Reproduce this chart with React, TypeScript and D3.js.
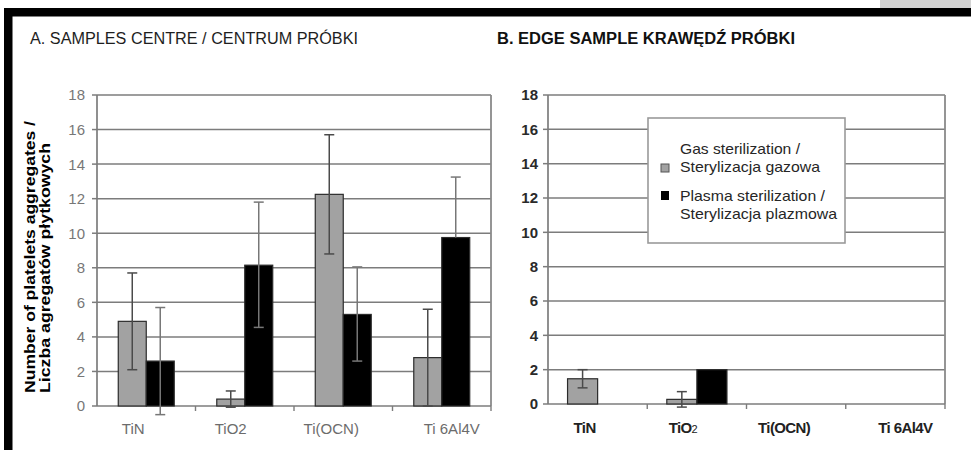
import React from 'react';
import * as d3 from 'd3';

const categories = ['TiN', 'TiO2', 'Ti(OCN)', 'Ti 6Al4V'];
const yTicks = [0, 2, 4, 6, 8, 10, 12, 14, 16, 18];

// A. Samples centre
const centreGas = [4.9, 0.4, 12.25, 2.8];
const centreGasErr = [2.8, 0.47, 3.45, 2.8];
const centrePlasma = [2.6, 8.15, 5.3, 9.75];
const centrePlasmaErrUp = [3.1, 3.65, 2.75, 3.5];
const centrePlasmaErrDown = [3.1, 3.6, 2.7, 0];

// B. Edge sample
const edgeGas = [1.47, 0.27, 0, 0];
const edgeGasErr = [0.53, 0.45, 0, 0];
const edgePlasma = [0, 2.0, 0, 0];
const edgePlasmaErr = [0, 0, 0, 0];

const legendLines = [
  ['Gas sterilization /', 'Sterylizacja gazowa'],
  ['Plasma sterilization /', 'Sterylizacja plazmowa'],
];

const GRAY = '#a2a2a2';
const GRID = '#7c7c7c';
const LABEL_DX = [-13, -14, -12, 10];

type PanelProps = {
  x0: number; x1: number; yTop: number; yBot: number;
  gas: number[]; gasErrUp: number[]; gasErrDown: number[];
  plasma: number[]; plasmaErrUp: number[]; plasmaErrDown: number[];
  padOuter: number;
  bold: boolean;
};

function Panel(p: PanelProps) {
  const x = d3.scaleBand<string>().domain(categories).range([p.x0, p.x1]).paddingInner(0).paddingOuter(0);
  const y = d3.scaleLinear().domain([0, 18]).range([p.yBot, p.yTop]);
  const sub = d3.scaleBand<string>().domain(['gas', 'plasma']).range([0, x.bandwidth()]).paddingInner(0).paddingOuter(p.padOuter);
  const bw = sub.bandwidth();
  const series = [
    { key: 'gas', vals: p.gas, up: p.gasErrUp, down: p.gasErrDown, fill: GRAY },
    { key: 'plasma', vals: p.plasma, up: p.plasmaErrUp, down: p.plasmaErrDown, fill: '#000' },
  ];
  const tickColor = p.bold ? '#2a2a2a' : '#777';
  const font = 'Liberation Sans, Arial, sans-serif';
  return (
    <g>
      {yTicks.filter(t => t > 0).map(t => (
        <line key={'g' + t} x1={p.x0} x2={p.x1} y1={y(t)} y2={y(t)} stroke={GRID} strokeWidth={1.5} />
      ))}
      <line x1={p.x1} x2={p.x1} y1={y(18)} y2={y(0)} stroke="#8a8a8a" strokeWidth={1.8} />
      <line x1={p.x0} x2={p.x0} y1={y(18)} y2={y(0)} stroke={GRID} strokeWidth={1.7} />
      {yTicks.map(t => (
        <g key={'t' + t}>
          <line x1={p.x0 - 5} x2={p.x0} y1={y(t)} y2={y(t)} stroke={GRID} strokeWidth={1.5} />
          <text x={p.x0 - (p.bold ? 10 : 12)} y={y(t)} dy="0.36em" textAnchor="end" fontFamily={font}
            fontSize={15} fontWeight={p.bold ? 700 : 400} fill={tickColor}>{t}</text>
        </g>
      ))}
      <line x1={p.x0} x2={p.x1} y1={y(0)} y2={y(0)} stroke={GRID} strokeWidth={1.7} />
      {categories.map(c => (
        <line key={'xt' + c} x1={(x(c) as number) + x.bandwidth()} x2={(x(c) as number) + x.bandwidth()}
          y1={y(0)} y2={y(0) + 5} stroke={GRID} strokeWidth={1.4} />
      ))}
      {series.map(s => categories.map((c, i) => {
        const v = s.vals[i];
        if (!v) return null;
        const bx = (x(c) as number) + (sub(s.key) as number);
        return (
          <rect key={s.key + c} x={bx} y={y(v)} width={bw} height={y(0) - y(v)}
            fill={s.fill} stroke="#2b2b2b" strokeWidth={1.2} />
        );
      }))}
      {series.map(s => categories.map((c, i) => {
        const v = s.vals[i];
        const up = s.up[i];
        const down = s.down[i];
        if (!v || (!up && !down)) return null;
        const cx = (x(c) as number) + (sub(s.key) as number) + bw / 2;
        const col = s.key === 'gas' ? '#4a4a4a' : '#777';
        return (
          <g key={'e' + s.key + c} stroke={col} strokeWidth={1.5}>
            <line x1={cx} x2={cx} y1={y(v + up)} y2={y(v - down)} />
            {up ? <line x1={cx - 5} x2={cx + 5} y1={y(v + up)} y2={y(v + up)} /> : null}
            {down ? <line x1={cx - 5} x2={cx + 5} y1={y(v - down)} y2={y(v - down)} /> : null}
          </g>
        );
      }))}
      {categories.map((c, i) => {
        const cx = (x(c) as number) + x.bandwidth() / 2 + LABEL_DX[i];
        const ly = p.bold ? y(0) + 29 : y(0) + 28;
        if (p.bold && c === 'TiO2') {
          return (
            <text key={'l' + c} x={cx} y={ly} textAnchor="middle" fontFamily={font} fontSize={15}
              fontWeight={700} fill="#222" letterSpacing={-0.6}>TiO<tspan fontSize={11} fontWeight={400}>2</tspan></text>
          );
        }
        return (
          <text key={'l' + c} x={cx} y={ly} textAnchor="middle" fontFamily={font}
            fontSize={15} fontWeight={p.bold ? 700 : 400} fill={p.bold ? '#222' : '#6c6c6c'}
            letterSpacing={p.bold ? -0.6 : 0}>{c}</text>
        );
      })}
    </g>
  );
}

export default function App() {
  const font = 'Liberation Sans, Arial, sans-serif';
  const narrow = 'Liberation Sans Narrow, Liberation Sans, Arial, sans-serif';
  return (
    <svg width={971} height={450} style={{ position: 'absolute', left: 0, top: 0, background: '#fff' }}>
      <rect x={0} y={0} width={971} height={450} fill="#fff" />
      <rect x={880} y={0} width={91} height={8} fill="#d3d3d3" />
      <rect x={4} y={8} width={967} height={8.5} fill="#000" />
      <rect x={4} y={8} width={8.5} height={442} fill="#000" />

      <text x={30} y={44} fontFamily={narrow} fontSize={16} fill="#1e1e1e" textLength={328}
        lengthAdjust="spacingAndGlyphs">A. SAMPLES  CENTRE / CENTRUM  PRÓBKI</text>
      <text x={497} y={44} fontFamily={narrow} fontSize={16} fontWeight={700} fill="#111" textLength={298}
        lengthAdjust="spacingAndGlyphs">B. EDGE SAMPLE KRAWĘDŹ PRÓBKI</text>

      <g fontFamily={font} fontWeight={700} fontSize={15} fill="#000">
        <text transform="translate(35,393) rotate(-90)" textLength={272} lengthAdjust="spacingAndGlyphs">
          Number of platelets aggregates /</text>
        <text transform="translate(50,393) rotate(-90)" textLength={250} lengthAdjust="spacingAndGlyphs">
          Liczba agregatów płytkowych</text>
      </g>

      <Panel x0={97} x1={491} yTop={95} yBot={406}
        gas={centreGas} gasErrUp={centreGasErr} gasErrDown={centreGasErr}
        plasma={centrePlasma} plasmaErrUp={centrePlasmaErrUp} plasmaErrDown={centrePlasmaErrDown}
        padOuter={0.76} bold={false} />

      <Panel x0={548} x1={945} yTop={95} yBot={404}
        gas={edgeGas} gasErrUp={edgeGasErr} gasErrDown={edgeGasErr}
        plasma={edgePlasma} plasmaErrUp={edgePlasmaErr} plasmaErrDown={edgePlasmaErr}
        padOuter={0.65} bold={true} />

      <g fontFamily={font} fontSize={15} fill="#262626">
        <rect x={648} y={118} width={197} height={125} fill="#fff" stroke="#9a9a9a" strokeWidth={1.6} />
        <rect x={661} y={164} width={8} height={8} fill={GRAY} stroke="#555" strokeWidth={1} />
        <rect x={661} y={191} width={8} height={9} fill="#000" />
        <text x={680} y={154} textLength={120} lengthAdjust="spacingAndGlyphs">{legendLines[0][0]}</text>
        <text x={680} y={172} textLength={140} lengthAdjust="spacingAndGlyphs">{legendLines[0][1]}</text>
        <text x={680} y={201} textLength={145} lengthAdjust="spacingAndGlyphs">{legendLines[1][0]}</text>
        <text x={680} y={219} textLength={157} lengthAdjust="spacingAndGlyphs">{legendLines[1][1]}</text>
      </g>
    </svg>
  );
}
